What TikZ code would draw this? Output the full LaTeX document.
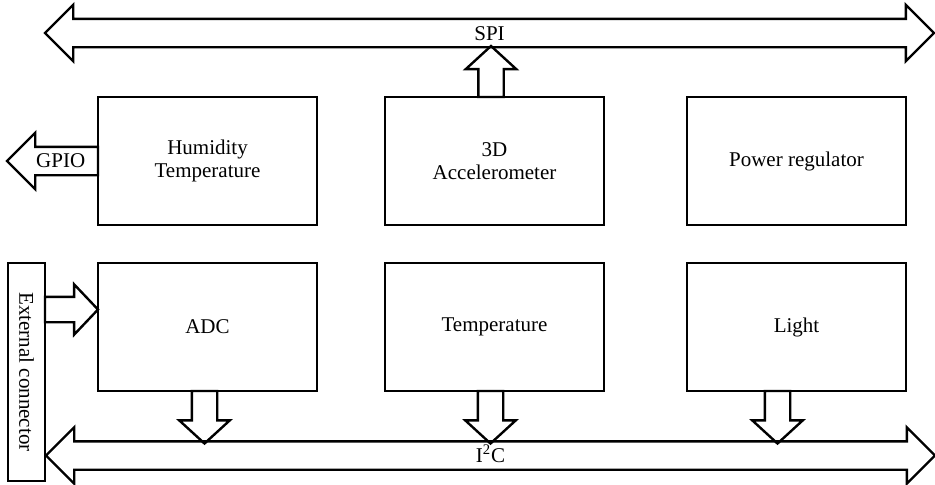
\documentclass[tikz,border=0pt]{standalone}
\usepackage{fontspec}
\setmainfont{Liberation Serif}
\usepackage{tikz}
\usetikzlibrary{shapes.arrows,positioning,calc}
\tikzstyle{blockbox} = [draw=black, line width=1.2pt, rectangle, outer sep=0pt, inner sep=0pt, minimum width=109.5pt, minimum height=64pt, align=center, font=\fontsize{10.5}{11.5}\selectfont]
\tikzstyle{busarrow} = [draw=black, line width=1.2pt, double arrow, outer sep=0pt, inner sep=0pt, text height=10pt, text depth=3pt, minimum width=27pt, double arrow head extend=7pt, double arrow tip angle=90, font=\fontsize{10.5}{11.5}\selectfont]
\tikzstyle{linkarrow} = [draw=black, line width=1.2pt, single arrow, outer sep=0pt, inner xsep=0pt, inner ysep=5.75pt, minimum width=24pt, single arrow head extend=6.25pt, single arrow tip angle=95]

\begin{document}
\begin{tikzpicture}[x=0.5pt,y=-0.5pt]
\useasboundingbox (0,0) rectangle (935,484);
% buses
\node [busarrow, minimum height=444.5pt] (spi) at (489.5,33) {SPI};
\node [busarrow, minimum height=444.5pt] (i2c) at (490.5,455.5) {I\textsuperscript{2}C};
% blocks
\node [blockbox] (hum) at (207.5,161) {Humidity\\Temperature};
\node [blockbox, right=34pt of hum] (acc) {3D\\Accelerometer};
\node [blockbox, right=41.5pt of acc] (pwr) {Power regulator};
\node [blockbox, below=19pt of hum] (adc) {ADC};
\node [blockbox, below=19pt of acc] (tmp) {Temperature};
\node [blockbox, below=19pt of pwr] (lgt) {Light};
\node [blockbox, rotate=-90, minimum width=109pt, minimum height=18.5pt] (ext) at (26.5,372) {External connector};
% links
\node [linkarrow, rotate=90, minimum height=25.5pt, anchor=tail] (accout) at ([xshift=-1.75pt]acc.north) {};
\node [linkarrow, rotate=-90, minimum height=26.25pt, anchor=tail] (adcout) at ([xshift=-1.5pt]adc.south) {};
\node [linkarrow, rotate=-90, minimum height=26.25pt, anchor=tail] (tmpout) at ([xshift=-2pt]tmp.south) {};
\node [linkarrow, rotate=-90, minimum height=26.25pt, anchor=tail] (lgtout) at ([xshift=-9.5pt]lgt.south) {};
\node [linkarrow, minimum height=26.5pt, minimum width=24.5pt, single arrow tip angle=93, anchor=tip] (extin) at ([yshift=8.75pt]adc.west) {};
\node [linkarrow, rotate=180, minimum height=45.5pt, minimum width=27pt, inner ysep=6.5pt, single arrow head extend=7pt, single arrow tip angle=90, anchor=tail] (gpio) at (hum.west) {};
\node [font=\fontsize{10.5}{11.5}\selectfont] (gpiotext) at ($(gpio.tail)!0.41!(gpio.tip)$) {GPIO};
\end{tikzpicture}
\end{document}
